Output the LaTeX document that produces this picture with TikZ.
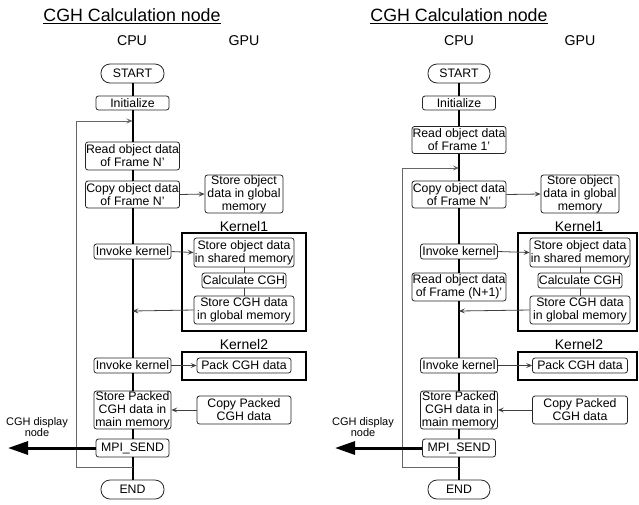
\documentclass[tikz,border=0pt]{standalone}
\usepackage{fontspec}
\setmainfont{Liberation Sans}
\usetikzlibrary{arrows.meta}
\newcommand\bxf{\fontsize{12.3}{12.9}\selectfont}
\newcommand\ttlf{\fontsize{17.8}{20}\selectfont}
\newcommand\colf{\fontsize{14.2}{16}\selectfont}
\newcommand\kf{\fontsize{14}{15}\selectfont}
\newcommand\dispf{\fontsize{11}{11}\selectfont}
\tikzset{
  box/.style={draw=black!85, rounded corners=2.5pt, fill=white, inner sep=0pt, align=center, font=\bxf, line width=0.8pt},
  term/.style={box, rounded corners=9pt},
  kbox/.style={draw=black, line width=1.4pt, inner sep=0pt},
  klabel/.style={font=\kf, inner sep=0pt},
  mainline/.style={draw=black, line width=2pt},
  arr/.style={draw=black!75, line width=0.8pt, -{Stealth[length=6pt,width=5pt,inset=2.5pt]}},
  thin/.style={draw=black!75, line width=0.8pt},
  loopline/.style={draw=black!60, line width=0.9pt},
  bigarr/.style={draw=black, line width=3pt, -{Triangle[length=20pt,width=13pt]}},
  ttl/.style={font=\ttlf, inner sep=0pt},
  col/.style={font=\colf, inner sep=0pt},
  disp/.style={font=\dispf, align=center, inner sep=0pt},
}
\begin{document}
\begin{tikzpicture}[x=1pt,y=-1pt]
\useasboundingbox (0,0) rectangle (639,504);

% ================= LEFT PANEL =================
\node[ttl] (Ltitle) at (132,16) {\underline{CGH Calculation node}};
\node[col] (Lcpu) at (132,41) {CPU};
\node[col] (Lgpu) at (244,41) {GPU};

\node[kbox, minimum width=124, minimum height=98] (Lk1) at (244,282) {};
\node[klabel] (Lk1l) at (244,226) {Kernel1};
\node[kbox, minimum width=124, minimum height=28] (Lk2) at (244,366) {};
\node[klabel] (Lk2l) at (244,344) {Kernel2};

\node[term, minimum width=63, minimum height=19] (Lstart) at (132.5,73.5) {START};
\node[box, minimum width=73, minimum height=14] (Linit) at (132.5,103) {Initialize};
\node[box, minimum width=94, minimum height=28] (Lread) at (132.5,156) {Read object data\\of Frame N'};
\node[box, minimum width=94, minimum height=27] (Lcopy) at (132.5,194.5) {Copy object data\\of Frame N'};
\node[box, minimum width=78, minimum height=38] (Lstore) at (244,194) {Store object\\data in global\\memory};
\node[box, minimum width=77, minimum height=15] (Linv) at (132.5,251.5) {Invoke kernel};
\node[box, minimum width=100, minimum height=29] (Lsh) at (244,252.5) {Store object data\\in shared memory};
\node[box, minimum width=84, minimum height=15] (Lcalc) at (244,280.5) {Calculate CGH};
\node[box, minimum width=100, minimum height=28] (Lcgh) at (244,310) {Store CGH data\\in global memory};
\node[box, minimum width=77, minimum height=15] (Linv2) at (132.5,365.5) {Invoke kernel};
\node[box, minimum width=94, minimum height=15] (Lpack) at (244,365.5) {Pack CGH data};
\node[box, minimum width=77, minimum height=38] (Lsp) at (132.5,410) {Store Packed\\CGH data in\\main memory};
\node[box, minimum width=94, minimum height=28] (Lcp) at (244,410) {Copy Packed\\CGH data};
\node[box, minimum width=73, minimum height=18] (Lmpi) at (132.5,448) {MPI\_SEND};
\node[term, minimum width=63, minimum height=19] (Lend) at (132.5,489.5) {END};
\node[disp] (Ldisp) at (37,427) {CGH display\\node};
\coordinate (Ltip) at (8,448);
\coordinate (Lbot) at (132.5,467);
\coordinate (Ltop) at (132.5,121);
\coordinate (Lcorner) at (76,467);
\coordinate (Lret) at (132.5,311);

\draw[mainline] (Lstart) -- (Linit) -- (Lread) -- (Lcopy) -- (Linv) -- (Linv2) -- (Lsp) -- (Lmpi) -- (Lend);
\draw[loopline, -{Stealth[length=6pt,width=5pt,inset=2.5pt]}] (Lbot) -- (Lcorner) |- (Ltop);
\draw[arr] (Lcopy.east) -- (Lstore.west);
\draw[arr] (Linv.east) -- (Lsh.west);
\draw[thin] (Lsh) -- (Lcalc) -- (Lcgh);
\draw[arr] (Lcgh.west) -- (Lret);
\draw[arr] (Linv2.east) -- (Lpack.west);
\draw[arr] (Lcp.west) -- (Lsp.east);
\draw[bigarr] (Lmpi.west) -- (Ltip);

% ================= RIGHT PANEL =================
\node[ttl] (Rtitle) at (459,16) {\underline{CGH Calculation node}};
\node[col] (Rcpu) at (459,41) {CPU};
\node[col] (Rgpu) at (580,41) {GPU};

\node[kbox, minimum width=119, minimum height=98] (Rk1) at (577.5,282) {};
\node[klabel] (Rk1l) at (579,226) {Kernel1};
\node[kbox, minimum width=119, minimum height=28] (Rk2) at (577.5,366) {};
\node[klabel] (Rk2l) at (579,344) {Kernel2};

\node[term, minimum width=62, minimum height=19] (Rstart) at (459,73.5) {START};
\node[box, minimum width=73, minimum height=14] (Rinit) at (459,103) {Initialize};
\node[box, minimum width=94, minimum height=27] (Rread) at (459,140) {Read object data\\of Frame 1'};
\node[box, minimum width=94, minimum height=27] (Rcopy) at (459,194.5) {Copy object data\\of Frame N'};
\node[box, minimum width=78, minimum height=38] (Rstore) at (580,194) {Store object\\data in global\\memory};
\node[box, minimum width=77, minimum height=15] (Rinv) at (459,251.5) {Invoke kernel};
\node[box, minimum width=100, minimum height=29] (Rsh) at (580,252.5) {Store object data\\in shared memory};
\node[box, minimum width=84, minimum height=15] (Rcalc) at (580,280.5) {Calculate CGH};
\node[box, minimum width=94, minimum height=28] (Rrn) at (459,287) {Read object data\\of Frame (N+1)'};
\node[box, minimum width=100, minimum height=28] (Rcgh) at (580,310) {Store CGH data\\in global memory};
\node[box, minimum width=77, minimum height=15] (Rinv2) at (459,365.5) {Invoke kernel};
\node[box, minimum width=95, minimum height=15] (Rpack) at (580,365.5) {Pack CGH data};
\node[box, minimum width=77, minimum height=38] (Rsp) at (459,410) {Store Packed\\CGH data in\\main memory};
\node[box, minimum width=95, minimum height=28] (Rcp) at (580,410) {Copy Packed\\CGH data};
\node[box, minimum width=73, minimum height=18] (Rmpi) at (459,448) {MPI\_SEND};
\node[term, minimum width=62, minimum height=19] (Rend) at (459,489.5) {END};
\node[disp] (Rdisp) at (363,427) {CGH display\\node};
\coordinate (Rtip) at (335,448);
\coordinate (Rbot) at (459,467);
\coordinate (Rtop) at (459,168);
\coordinate (Rcorner) at (402,467);
\coordinate (Rret) at (459,311);

\draw[mainline] (Rstart) -- (Rinit) -- (Rread) -- (Rcopy) -- (Rinv) -- (Rrn) -- (Rinv2) -- (Rsp) -- (Rmpi) -- (Rend);
\draw[loopline, -{Stealth[length=6pt,width=5pt,inset=2.5pt]}] (Rbot) -- (Rcorner) |- (Rtop);
\draw[arr] (Rcopy.east) -- (Rstore.west);
\draw[arr] (Rinv.east) -- (Rsh.west);
\draw[thin] (Rsh) -- (Rcalc) -- (Rcgh);
\draw[arr] (Rcgh.west) -- (Rret);
\draw[arr] (Rinv2.east) -- (Rpack.west);
\draw[arr] (Rcp.west) -- (Rsp.east);
\draw[bigarr] (Rmpi.west) -- (Rtip);
\end{tikzpicture}
\end{document}
